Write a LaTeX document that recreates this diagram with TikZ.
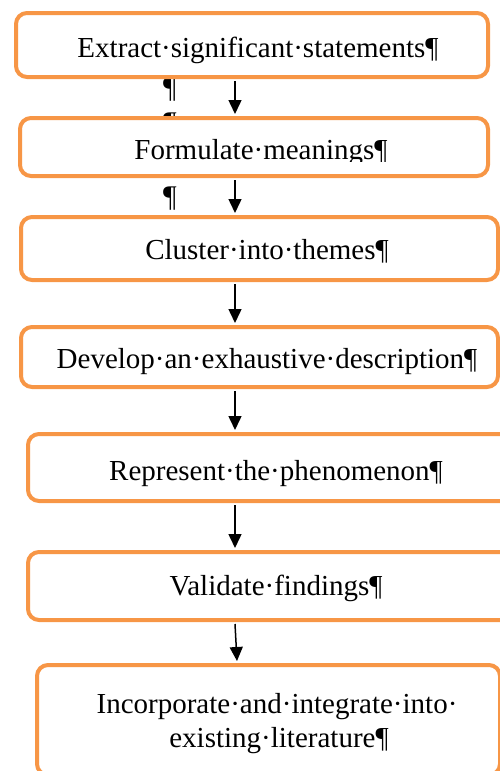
\documentclass[tikz,border=0pt]{standalone}
\usepackage{fontspec}
\setmainfont{Liberation Serif}
\usetikzlibrary{arrows.meta}
\definecolor{boxorange}{HTML}{F79646}
\begin{document}
\begin{tikzpicture}[x=1pt,y=-1pt,
  stepbox/.style={draw=boxorange, line width=4pt, rounded corners=11pt, fill=white, inner sep=0pt},
  steptext/.style={anchor=base, inner sep=0pt, font=\fontsize{29}{34}\selectfont},
  marktext/.style={anchor=base, inner sep=0pt, font=\fontsize{30}{34}\selectfont},
  flow/.style={-{Triangle[length=14pt,width=13pt]}, line width=1.5pt}]
\useasboundingbox (0,0) rectangle (500,771);
\clip (0,0) rectangle (500,771);
% stray paragraph marks
\node[marktext] (p1) at (170,97) {¶};
\node[marktext] (p2) at (170,132) {¶};
\node[marktext] (p3) at (170,206) {¶};
% boxes
\node[stepbox, minimum width=472pt, minimum height=64pt] (b1) at (252,45) {};
\node[stepbox, minimum width=468pt, minimum height=58pt] (b2) at (254,147) {};
\node[stepbox, minimum width=477pt, minimum height=63pt] (b3) at (259.5,248.5) {};
\node[stepbox, minimum width=477pt, minimum height=60pt] (b4) at (259.5,357) {};
\node[stepbox, minimum width=502pt, minimum height=67pt] (b5) at (279,467.5) {};
\node[stepbox, minimum width=502pt, minimum height=68pt] (b6) at (279,586) {};
\node[stepbox, minimum width=463pt, minimum height=110pt] (b7) at (268.5,720) {};
% texts
\node[steptext] (t1) at (258,57) {Extract·significant·statements¶};
\begin{scope}
\clip (0,100) rectangle (500,161);
\node[steptext] (t2) at (261,159) {Formulate·meanings¶};
\end{scope}
\node[steptext] (t3) at (267,259) {Cluster·into·themes¶};
\node[steptext] (t4) at (267,368) {Develop·an·exhaustive·description¶};
\node[steptext] (t5) at (276,480) {Represent·the·phenomenon¶};
\node[steptext] (t6) at (276,595) {Validate·findings¶};
\node[steptext] (t7a) at (277,713) {Incorporate·and·integrate·into·};
\node[steptext] (t7b) at (279,747) {existing·literature¶};
% arrows
\coordinate (ax) at (235,0);
\coordinate (ax2) at (237,0);
\draw[flow] ([yshift=-2pt]b1.south -| ax) -- ([yshift=2pt]b2.north -| ax);
\draw[flow] ([yshift=-2pt]b2.south -| ax) -- ([yshift=2pt]b3.north -| ax);
\draw[flow] ([yshift=-2pt]b3.south -| ax) -- ([yshift=2pt]b4.north -| ax);
\draw[flow] ([yshift=-2pt]b4.south -| ax) -- ([yshift=2pt]b5.north -| ax);
\draw[flow] ([yshift=-2pt]b5.south -| ax) -- ([yshift=2pt]b6.north -| ax);
\draw[flow] ([yshift=-2pt]b6.south -| ax) -- ([yshift=2pt]b7.north -| ax2);
\end{tikzpicture}
\end{document}
